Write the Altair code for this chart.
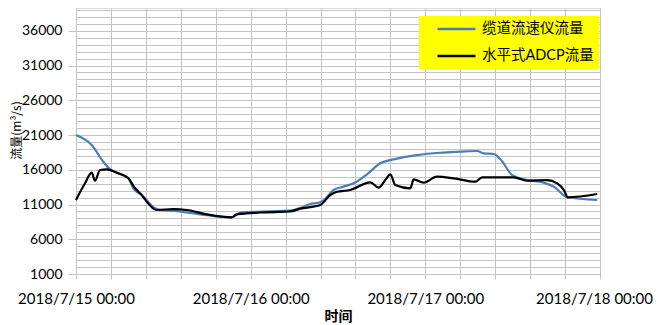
import altair as alt
import pandas as pd

# hours after 2018/7/15 00:00
cable_hours = [0, 2.16, 3.75, 4.68, 5.78, 7.19, 7.88, 9.04, 10.87, 11.55, 13.85, 17.05,
               21.18, 21.64, 22.56, 24.85, 29.43, 30.81, 32.19, 33.33, 34.02, 35.39, 36.77,
               38.14, 39.98, 41.81, 43.64, 46.86, 50.06, 52.82, 55.11, 56.02, 57.4, 58.32,
               59.93, 61.52, 64.28, 65.65, 67.49, 71.62]
cable_flow = [21000, 19560, 17160, 16060, 15500, 14770, 13330, 12370, 10450, 10210, 10050, 9590,
              9160, 9250, 9850, 9960, 10110, 10500, 11070, 11250, 11600, 13090, 13570,
              14050, 15350, 16930, 17500, 18120, 18450, 18600, 18700, 18370, 18270, 17500,
              15240, 14620, 14140, 13570, 12040, 11650]

adcp_hours = [0, 1.24, 2.16, 2.61, 3.30, 4.22, 5.82, 7.19, 8.12, 8.80, 11.10, 13.38, 15.23,
              17.98, 21.42, 22.10, 25.31, 29.43, 30.81, 33.56, 34.94, 35.85, 37.69, 40.44,
              41.58, 42.50, 43.19, 43.87, 45.94, 46.39, 47.77, 49.61, 51.89, 54.88, 55.80,
              58.32, 60.15, 61.99, 64.74, 66.12, 67.03, 67.58, 71.62]
adcp_flow = [11650, 14050, 15590, 14420, 15960, 16060, 15490, 14770, 13330, 12610, 10210, 10350,
             10210, 9590, 9160, 9590, 9850, 10000, 10400, 10930, 12370, 12840, 13090, 14200,
             13430, 14520, 15350, 13810, 13330, 14620, 14140, 15010, 14770, 14280, 14910,
             14910, 14910, 14420, 14520, 14050, 13090, 12040, 12510]

series_names = ["缆道流速仪流量", "水平式ADCP流量"]
series_colors = ["#4A7EBB", "#000000"]
day_labels = ["2018/7/15 00:00", "2018/7/16 00:00", "2018/7/17 00:00", "2018/7/18 00:00"]

x_ticks = [round(i * 4.8, 6) for i in range(16)]
y_grid = list(range(1000, 40000, 1000))

rows = []
for h, v in zip(cable_hours, cable_flow):
    rows.append({"hour": h, "flow": v, "series": series_names[0], "order": 0})
for h, v in zip(adcp_hours, adcp_flow):
    rows.append({"hour": h, "flow": v, "series": series_names[1], "order": 1})
df = pd.DataFrame(rows)

label_expr = ("abs(datum.value - 0) < 0.01 ? '%s' : abs(datum.value - 24) < 0.01 ? '%s' : "
              "abs(datum.value - 48) < 0.01 ? '%s' : abs(datum.value - 72) < 0.01 ? '%s' : ''"
              % tuple(day_labels))

FONT = "Lato, 'Noto Sans CJK SC'"
GRID = "#C4C4C4"

chart = alt.Chart(df).mark_line(interpolate="monotone", strokeWidth=2.2).encode(
    x=alt.X("hour:Q",
            scale=alt.Scale(domain=[0, 72], nice=False, zero=False),
            axis=alt.Axis(values=x_ticks, labelExpr=label_expr, title="时间",
                          grid=True, gridColor=GRID, gridWidth=1,
                          domainColor=GRID, domainWidth=1, tickColor=GRID, tickSize=5,
                          labelFont=FONT, labelFontSize=15, labelColor="#000000",
                          labelPadding=12, labelOverlap=False, labelFlush=False,
                          labelOffset={"condition": {"test": "datum.value > 71", "value": -6}, "value": 0},
                          titleFont="'Noto Sans CJK SC'", titleFontSize=14,
                          titleFontWeight="bold", titleColor="#000000", titlePadding=3)),
    y=alt.Y("flow:Q",
            scale=alt.Scale(domain=[1000, 39280], nice=False, zero=False),
            axis=alt.Axis(values=y_grid,
                          labelExpr="datum.value % 5000 == 1000 ? datum.value : ''",
                          title="流量(m³/s)", grid=True, gridColor=GRID, gridWidth=1,
                          domainColor=GRID, domainWidth=1, tickColor=GRID, tickSize=8,
                          tickOpacity={"condition": {"test": "datum.value % 5000 == 1000", "value": 1}, "value": 0},
                          labelFont=FONT, labelFontSize=14, labelColor="#000000", labelPadding=6,
                          labelOverlap=False, labelFlush=False,
                          titleFont="'Noto Sans CJK SC'", titleFontSize=12, titleFontWeight="normal",
                          titleColor="#000000", titleX=-60, titleY=122, titleAngle=270,
                          titleBaseline="middle", titleAlign="center")),
    color=alt.Color("series:N",
                    scale=alt.Scale(domain=series_names, range=series_colors),
                    legend=alt.Legend(title=None, orient="none", legendX=343, legendY=8,
                                      fillColor="#FFFF00", padding=5, symbolType="stroke",
                                      symbolSize=1444, symbolStrokeWidth=2.5, symbolOffset=12,
                                      labelOffset=5, labelFont=FONT, labelFontSize=14.5,
                                      labelColor="#000000", clipHeight=16, rowPadding=11)),
    order="order:Q",
).properties(
    width=524, height=266,
    autosize=alt.AutoSizeParams(type="none"),
    padding={"left": 68, "top": 0, "right": 53, "bottom": 51},
).configure_view(strokeWidth=0).configure(background="white")

chart.save("out.html", embed_options={"renderer": "svg", "actions": False})
